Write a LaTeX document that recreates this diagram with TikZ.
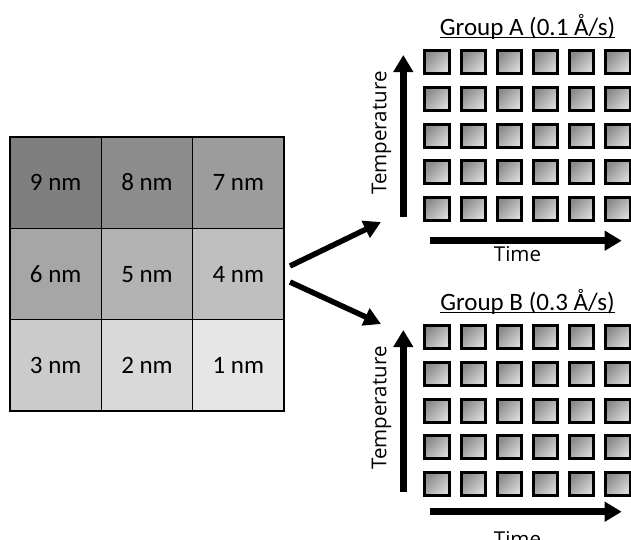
\documentclass[tikz,border=0pt]{standalone}
\usepackage{fontspec}
\setmainfont{Carlito}
\newfontfamily\osans{Open Sans}
\usetikzlibrary{arrows.meta}
\definecolor{g9}{HTML}{7F7F7F}
\definecolor{g8}{HTML}{8C8C8C}
\definecolor{g7}{HTML}{9C9C9C}
\definecolor{g6}{HTML}{A6A6A6}
\definecolor{g5}{HTML}{B3B3B3}
\definecolor{g4}{HTML}{BFBFBF}
\definecolor{g3}{HTML}{CBCBCB}
\definecolor{g2}{HTML}{D9D9D9}
\definecolor{g1}{HTML}{E6E6E6}
\definecolor{sqdark}{HTML}{8A8A8A}
\definecolor{sqlight}{HTML}{DADADA}
\tikzset{
  cell/.style={draw=black, line width=1.5pt, minimum width=91.33pt, minimum height=91.33pt,
    inner sep=0pt, text height=16pt, text depth=0pt, font=\fontsize{25}{29}\selectfont},
  sq/.style={draw=black, line width=3pt, minimum width=24.3pt, minimum height=23pt,
    inner sep=0pt, outer sep=0pt, top color=sqdark, bottom color=sqlight, shading angle=45},
  bigarrow/.style={line width=6.5pt, -{Triangle[length=17pt,width=19pt]}},
  linkarrow/.style={line width=5.5pt, -{Triangle[length=17pt,width=18pt]}},
  grouptitle/.style={inner sep=0pt, anchor=base, font=\fontsize{25}{29}\selectfont},
  axislabel/.style={inner sep=0pt, font=\osans\fontsize{20.5}{24}\selectfont},
}
\begin{document}
\begin{tikzpicture}[x=1pt,y=-1pt]
\useasboundingbox[fill=white] (0,0) rectangle (631,539);
% left grid
\foreach \lab/\c/\r in {9/0/0,8/1/0,7/2/0,6/0/1,5/1/1,4/2/1,3/0/2,2/1/2,1/2/2}{
  \node[cell, fill=g\lab] (c\lab) at ({55.67+\c*91.33},{182.67+\r*91.33}) {\lab\ nm};
}
% link arrows
\coordinate (s1) at (290,266);
\coordinate (d1) at (381,222);
\coordinate (s2) at (290,282);
\coordinate (d2) at (381,324);
\draw[linkarrow] (s1) -- (d1);
\draw[linkarrow] (s2) -- (d2);
% groups
\foreach \g/\yo/\title/\ha/\tt in {A/0/{Group A (0.1 Å/s)}/240.7/246.5, B/275/{Group B (0.3 Å/s)}/511.7/531}{
  \node[grouptitle] (t\g) at (527.5,{35+\yo}) {\title};
  \draw[line width=1.3pt] ([yshift=-2.8pt]t\g.base west) -- ([yshift=-2.8pt]t\g.base east);
  \foreach \i in {0,...,5}{
    \foreach \j in {0,...,4}{
      \node[sq] (\g-\i-\j) at ({436.95+\i*36.2},{62.3+\yo+\j*36.7}) {};
    }
  }
  \coordinate (v\g0) at (403.3,{216.7+\yo});
  \coordinate (v\g1) at (403.3,{55+\yo});
  \draw[bigarrow] (v\g0) -- (v\g1);
  \coordinate (h\g0) at (430,\ha);
  \coordinate (h\g1) at (621.7,\ha);
  \draw[bigarrow] (h\g0) -- (h\g1);
  \node[axislabel, rotate=90] (temp\g) at (381.5,{133+\yo}) {Temperature};
  \node[axislabel, anchor=north] (time\g) at (517.5,\tt) {Time};
}
\end{tikzpicture}
\end{document}
